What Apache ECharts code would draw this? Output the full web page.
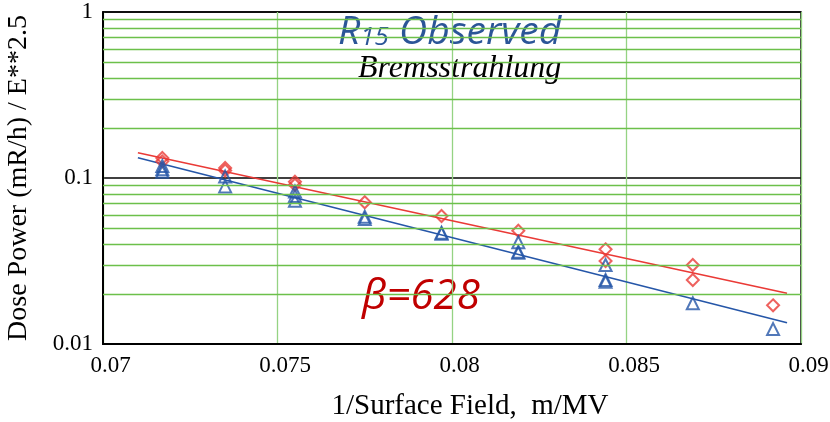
<!DOCTYPE html>
<html>
<head>
<meta charset="utf-8">
<script src="https://cdn.jsdelivr.net/npm/echarts@6/dist/echarts.min.js"></script>
<style>
  html, body { margin: 0; padding: 0; background: #fff; }
  #chart { width: 830px; height: 422px; }
</style>
</head>
<body>
<div id="chart"></div>
<script>
// observed points, red diamonds
const redX = [0.0717, 0.0717, 0.0735, 0.0735, 0.0755, 0.0755, 0.0775, 0.0797, 0.0819, 0.0844, 0.0844, 0.0869, 0.0869, 0.0892];
const redY = [0.132, 0.126, 0.115, 0.111, 0.095, 0.091, 0.0714, 0.059, 0.0481, 0.0372, 0.0316, 0.0299, 0.0243, 0.0171];

// observed points, blue triangles
const blueX = [0.0717, 0.0717, 0.0717, 0.0735, 0.0735, 0.0755, 0.0755, 0.0755, 0.0775, 0.0775, 0.0797, 0.0797, 0.0819, 0.0819, 0.0819, 0.0844, 0.0844, 0.0844, 0.0869, 0.0892];
const blueY = [0.118, 0.113, 0.109, 0.102, 0.089, 0.083, 0.078, 0.073, 0.0585, 0.0566, 0.0468, 0.0462, 0.041, 0.036, 0.0354, 0.0299, 0.0243, 0.0237, 0.0176, 0.0123];

// fitted lines (end points)
const fitX = [0.071, 0.0896];
const redFit = [0.142, 0.0202];
const blueFit = [0.1325, 0.01344];

// minor log grid levels
const minorLevels = [0.02, 0.03, 0.04, 0.05, 0.06, 0.07, 0.08, 0.09, 0.2, 0.3, 0.4, 0.5, 0.6, 0.7, 0.8, 0.9];

const RED = '#EA3A36';
const BLUE = '#2556A8';

const zip = (xs, ys) => xs.map((x, i) => [x, ys[i]]);

const chart = echarts.init(document.getElementById('chart'));

const option = {
  animation: false,
  grid: {
    left: 103,
    right: 29,
    top: 12,
    bottom: 78,
    outerBoundsMode: 'none',
    containLabel: false,
    show: true,
    borderColor: '#000',
    borderWidth: 1.5
  },
  xAxis: {
    type: 'value',
    min: 0.07,
    max: 0.09,
    interval: 0.005,
    name: '1/Surface Field,  m/MV',
    nameLocation: 'middle',
    nameGap: 48,
    nameTextStyle: { fontFamily: 'Liberation Serif', fontSize: 29, color: '#000', padding: [0, 0, 0, 36] },
    axisLine: { lineStyle: { color: '#000', width: 2 } },
    axisTick: { show: false },
    axisLabel: { fontFamily: 'Liberation Serif', fontSize: 23, color: '#000', margin: 10, padding: [0, 0, 0, 15] },
    splitLine: { lineStyle: { color: '#95D383', width: 1.3 } }
  },
  yAxis: {
    type: 'log',
    logBase: 10,
    min: 0.01,
    max: 1,
    name: 'Dose Power (mR/h) / E**2.5',
    nameLocation: 'middle',
    nameGap: 70,
    nameTextStyle: { fontFamily: 'Liberation Serif', fontSize: 28, color: '#000' },
    axisLine: { lineStyle: { color: '#000', width: 2 } },
    axisTick: { show: false },
    axisLabel: { fontFamily: 'Liberation Serif', fontSize: 23, color: '#000', margin: 10 },
    splitLine: { lineStyle: { color: '#000', width: 1.5 } }
  },
  graphic: [
    {
      type: 'text',
      left: 338,
      top: 13,
      style: {
        text: '{r|R}{s|15}{r| Observed}',
        rich: {
          r: { fontFamily: 'Open Sans', fontStyle: 'italic', fontSize: 39, fill: '#2B5597' },
          s: { fontFamily: 'Open Sans', fontStyle: 'italic', fontSize: 26, fill: '#2B5597', padding: [10, 0, 0, 0] }
        }
      }
    },
    {
      type: 'text',
      left: 358,
      top: 53,
      style: {
        text: 'Bremsstrahlung',
        fontFamily: 'Liberation Serif',
        fontStyle: 'italic',
        fontSize: 32,
        fill: '#000'
      }
    },
    {
      type: 'text',
      left: 362,
      top: 276,
      style: {
        text: 'β=628',
        fontFamily: 'Open Sans',
        fontStyle: 'italic',
        fontSize: 42,
        fill: '#C00000'
      }
    }
  ],
  series: [
    {
      type: 'line',
      data: [],
      silent: true,
      markLine: {
        silent: true,
        symbol: 'none',
        label: { show: false },
        lineStyle: { color: '#6CC04A', width: 1.3, type: 'solid' },
        data: minorLevels.map(v => ({ yAxis: v }))
      }
    },
    {
      type: 'line',
      data: zip(fitX, redFit),
      symbol: 'none',
      lineStyle: { color: RED, width: 1.6 },
      z: 3
    },
    {
      type: 'line',
      data: zip(fitX, blueFit),
      symbol: 'none',
      lineStyle: { color: BLUE, width: 1.6 },
      z: 3
    },
    {
      type: 'scatter',
      data: zip(redX, redY),
      symbol: 'diamond',
      symbolSize: [12, 12],
      itemStyle: { color: 'rgba(255,255,255,0)', borderColor: RED, borderWidth: 2 },
      z: 4
    },
    {
      type: 'scatter',
      data: zip(blueX, blueY),
      symbol: 'triangle',
      symbolSize: [12, 12],
      itemStyle: { color: 'rgba(255,255,255,0)', borderColor: BLUE, borderWidth: 2 },
      z: 4
    }
  ]
};

chart.setOption(option);
</script>
</body>
</html>
